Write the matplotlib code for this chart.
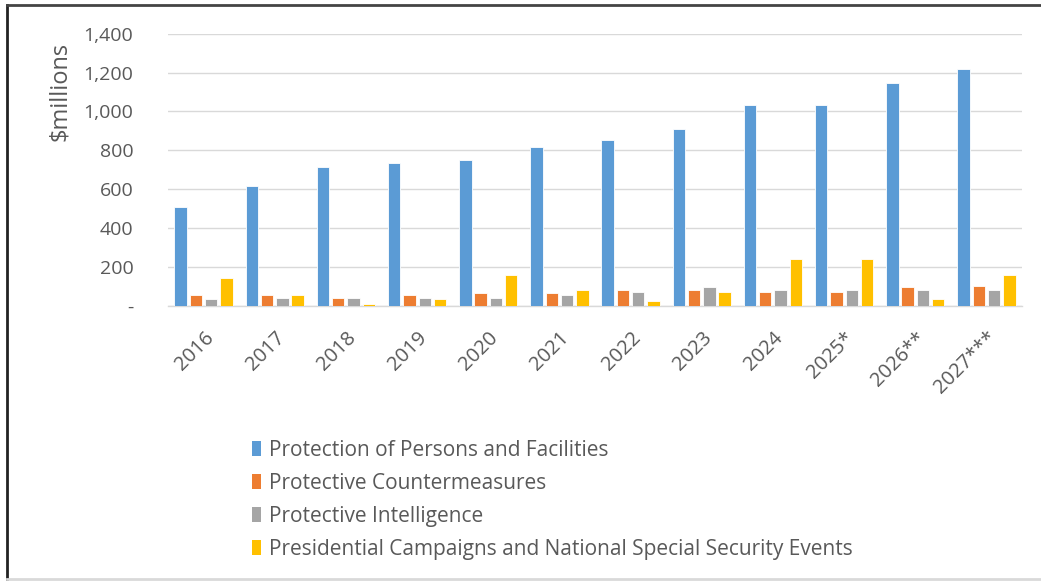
import matplotlib
matplotlib.use("Agg")
import matplotlib.pyplot as plt
from matplotlib.lines import Line2D
from matplotlib.patches import Patch
import numpy as np

years = ["2016", "2017", "2018", "2019", "2020", "2021", "2022", "2023", "2024", "2025*", "2026**", "2027***"]
series_names = [
    "Protection of Persons and Facilities",
    "Protective Countermeasures",
    "Protective Intelligence",
    "Presidential Campaigns and National Special Security Events",
]
protection = [505, 618, 711, 732, 752, 814, 855, 907, 1031, 1031, 1144, 1216]
countermeasures = [52, 52, 41, 52, 62, 62, 82, 82, 72, 72, 93, 103]
intelligence = [31, 41, 41, 41, 41, 52, 72, 93, 82, 82, 82, 82]
campaigns = [144, 52, 10, 31, 155, 82, 21, 72, 237, 237, 31, 155]
yticks = [0, 200, 400, 600, 800, 1000, 1200, 1400]
ytick_labels = ["-", "200", "400", "600", "800", "1,000", "1,200", "1,400"]

colors = ["#5b9bd5", "#ed7d31", "#a5a5a5", "#ffc000"]
data = [protection, countermeasures, intelligence, campaigns]

plt.rcParams["font.family"] = ["Open Sans", "DejaVu Sans"]
fig = plt.figure(figsize=(10.41, 5.81), dpi=100)
ax = fig.add_axes([168 / 1041, 1 - 305.5 / 581, (1022 - 168) / 1041, (305.5 - 33.7) / 581])

x = np.arange(len(years))
step = 0.215
width = 0.175
for i, (vals, c) in enumerate(zip(data, colors)):
    offs = (i - 1.5) * step
    ax.bar(x + offs, vals, width=width, color=c, edgecolor="white", linewidth=0.6, zorder=3)

ax.set_xlim(-0.5, len(years) - 0.5)
ax.set_ylim(0, 1400)
ax.set_yticks(yticks)
ax.set_yticklabels(ytick_labels)
ax.yaxis.grid(True, color="#d9d9d9", linewidth=1, zorder=0)
ax.set_axisbelow(True)
for s in ["top", "right", "left"]:
    ax.spines[s].set_visible(False)
ax.spines["bottom"].set_color("#d9d9d9")
ax.spines["bottom"].set_linewidth(1)
ax.tick_params(axis="y", length=0, pad=25, labelsize=14, labelcolor="#595959")
ax.tick_params(axis="x", length=0, pad=16, labelsize=14.5, labelcolor="#595959")
ax.set_xticks(x)
ax.set_xticklabels(years, rotation=45, ha="right", va="top", rotation_mode="anchor")

fig.text(60 / 1041, 1 - 91 / 581, "$millions", rotation=90, ha="center", va="center",
         fontsize=17, color="#595959")

handles = [Patch(facecolor=c, edgecolor="none") for c in colors]
leg = fig.legend(handles, series_names, loc="upper left",
                 bbox_to_anchor=(233 / 1041, 1 - 421 / 581), frameon=False,
                 fontsize=15, labelcolor="#595959", handlelength=0.45, handleheight=0.75,
                 handletextpad=0.4, labelspacing=0.58)

# chart border
fig.add_artist(Line2D([7 / 1041, 7 / 1041], [0, 1 - 5 / 581], color="#222222", lw=2, transform=fig.transFigure))
fig.add_artist(Line2D([7 / 1041, 1], [1 - 5 / 581, 1 - 5 / 581], color="#444444", lw=2, transform=fig.transFigure))
fig.add_artist(Line2D([7 / 1041, 1], [1 - 579 / 581, 1 - 579 / 581], color="#d9d9d9", lw=2, transform=fig.transFigure))

fig.savefig("out.png", dpi=100)
